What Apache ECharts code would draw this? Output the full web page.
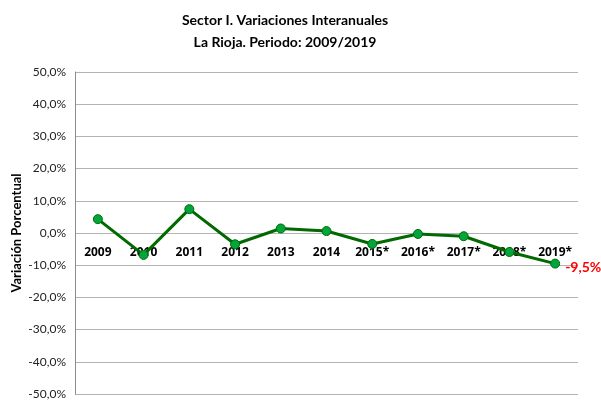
<!DOCTYPE html>
<html>
<head>
<meta charset="utf-8">
<script src="https://cdn.jsdelivr.net/npm/echarts@6/dist/echarts.min.js"></script>
<style>
  html, body { margin: 0; padding: 0; background: #fff; }
  #chart { width: 601px; height: 401px; }
</style>
</head>
<body>
<div id="chart"></div>
<script>
// años y variaciones (%)
var years = ['2009', '2010', '2011', '2012', '2013', '2014', '2015*', '2016*', '2017*', '2018*', '2019*'];
var variacion = [4.3, -6.8, 7.4, -3.5, 1.4, 0.6, -3.4, -0.3, -1.0, -5.9, -9.5];
var yTicks = [-50, 50, 10];

var font = 'Lato, Open Sans, sans-serif';
var gridTop = 72, gridBottom = 7, H = 401;
// el eje de categorías va sobre el 0%
var zeroOffset = -(H - gridTop - gridBottom) * (0 - yTicks[0]) / (yTicks[1] - yTicks[0]);

var myChart = echarts.init(document.getElementById('chart'));
var option = {
    animation: false,
    title: {
        text: 'Sector I. Variaciones Interanuales\nLa Rioja. Periodo: 2009/2019',
        left: 280,
        textAlign: 'center',
        top: 4,
        textStyle: {
            fontFamily: font,
            fontSize: 14,
            fontWeight: 'bold',
            color: '#000',
            lineHeight: 22
        }
    },
    grid: {
        left: 75,
        right: 23,
        top: gridTop,
        bottom: gridBottom,
        outerBoundsMode: 'none'
    },
    xAxis: {
        type: 'category',
        data: years,
        boundaryGap: true,
        offset: zeroOffset,
        axisLine: { show: false, onZero: false },
        axisTick: { show: false },
        axisLabel: {
            fontFamily: 'Open Sans, sans-serif',
            fontSize: 12,
            fontWeight: 'bold',
            color: '#000',
            margin: 14
        }
    },
    yAxis: {
        type: 'value',
        min: yTicks[0],
        max: yTicks[1],
        interval: yTicks[2],
        name: 'Variación Porcentual',
        nameLocation: 'middle',
        nameGap: 52,
        nameMoveOverlap: false,
        nameTextStyle: {
            fontFamily: font,
            fontSize: 13,
            fontWeight: 'bold',
            color: '#000'
        },
        axisLine: { show: true, lineStyle: { color: '#8c8c8c' } },
        axisTick: { show: false },
        splitLine: { lineStyle: { color: '#b3b3b3' } },
        axisLabel: {
            fontFamily: font,
            fontSize: 12,
            color: '#222',
            margin: 9,
            formatter: function (v) {
                return v.toFixed(1).replace('.', ',') + '%';
            }
        }
    },
    series: [{
        type: 'line',
        data: variacion,
        symbol: 'circle',
        symbolSize: 9,
        lineStyle: { color: '#006a00', width: 3 },
        itemStyle: { color: '#00a63c', borderColor: '#006a00', borderWidth: 1 },
        label: {
            show: true,
            position: 'right',
            distance: 5,
            fontFamily: font,
            fontSize: 14,
            fontWeight: 'bold',
            color: '#ff0000',
            offset: [0, 4],
            formatter: function (p) {
                if (p.dataIndex !== variacion.length - 1) return '';
                return p.value.toFixed(1).replace('.', ',') + '%';
            }
        }
    }]
};
myChart.setOption(option, true);
</script>
</body>
</html>
